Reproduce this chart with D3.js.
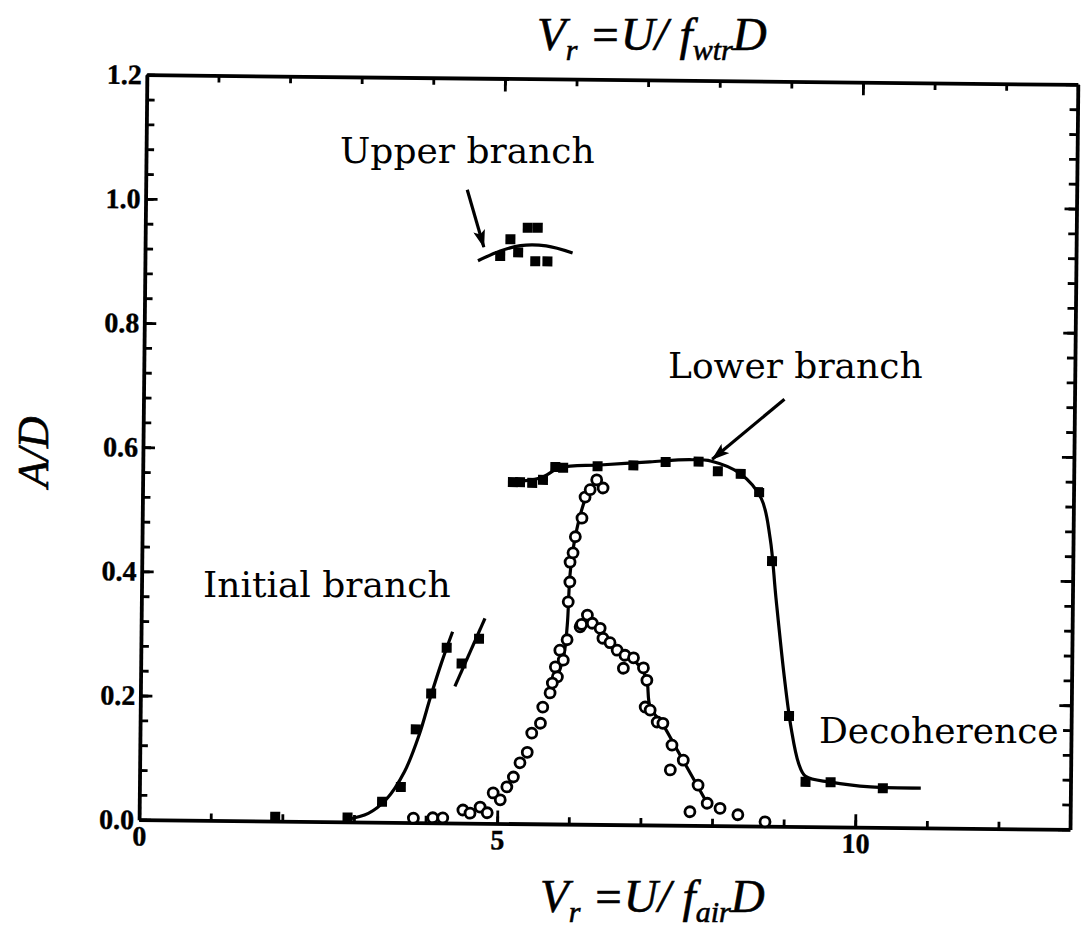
<!DOCTYPE html>
<html>
<head>
<meta charset="utf-8">
<script src="https://cdn.jsdelivr.net/npm/d3@7"></script>
<style>
  body { margin: 0; background: #fff; }
</style>
</head>
<body>
<div id="chart"></div>
<script>
// values (Vr, A/D)

// initial branch, filled squares + fitted curve
const initialX = [1.90, 2.91, 3.39, 3.65, 3.85, 4.06, 4.27];
const initialY = [0.007, 0.007, 0.033, 0.057, 0.150, 0.208, 0.282];
const initialFitX = [2.9, 3.2, 3.45, 3.7, 3.9, 4.05, 4.2, 4.35];
const initialFitY = [0.004, 0.014, 0.037, 0.082, 0.142, 0.202, 0.258, 0.308];
const initial2X = [4.48, 4.72];
const initial2Y = [0.257, 0.297];
const initial2FitX = [4.39, 4.8];
const initial2FitY = [0.220, 0.330];

// upper branch
const upperX = [4.96, 5.10, 5.21, 5.34, 5.48, 5.45, 5.62];
const upperY = [0.914, 0.941, 0.920, 0.960, 0.960, 0.906, 0.906];
const upperFitX = [4.65, 4.96, 5.24, 5.6, 5.97];
const upperFitY = [0.906, 0.922, 0.931, 0.931, 0.920];

// lower branch + decoherence
const lowerX = [5.17, 5.27, 5.44, 5.59, 5.76, 5.87, 6.35, 6.85, 7.30, 7.76, 8.03, 8.35, 8.61, 8.80, 9.06, 9.30, 9.65, 10.38];
const lowerY = [0.550, 0.550, 0.549, 0.554, 0.575, 0.574, 0.577, 0.579, 0.585, 0.586, 0.571, 0.567, 0.538, 0.427, 0.178, 0.072, 0.072, 0.063];
const lowerFitX = [5.13, 5.55, 5.83, 6.38, 7.08, 7.64, 7.94, 8.35, 8.64, 8.77, 8.86, 8.99, 9.09, 9.20, 9.30, 9.65, 10.21, 10.91];
const lowerFitY = [0.550, 0.557, 0.574, 0.579, 0.585, 0.589, 0.587, 0.567, 0.528, 0.464, 0.368, 0.239, 0.159, 0.102, 0.081, 0.072, 0.065, 0.064];

// open symbols, rising set
const riseX = [3.83, 4.10, 4.24, 4.52, 4.62, 4.76, 4.86, 4.94, 5.04, 5.13, 5.22, 5.31, 5.41, 5.47, 5.59, 5.62, 5.72, 5.82, 5.90, 5.95, 5.85, 5.79, 5.75, 5.96, 5.98, 5.98, 6.02, 6.05, 6.14, 6.18, 6.25, 6.43, 6.34];
const riseY = [0.007, 0.008, 0.008, 0.021, 0.016, 0.026, 0.017, 0.049, 0.038, 0.059, 0.075, 0.098, 0.115, 0.146, 0.162, 0.188, 0.211, 0.237, 0.264, 0.297, 0.280, 0.253, 0.227, 0.358, 0.390, 0.422, 0.437, 0.463, 0.493, 0.527, 0.539, 0.542, 0.555];
const riseFitX = [5.75, 5.9, 5.95, 5.98, 6.03, 6.12, 6.22, 6.35];
const riseFitY = [0.215, 0.268, 0.32, 0.40, 0.45, 0.50, 0.535, 0.556];

// open symbols, falling set
const fallX = [6.23, 6.13, 6.30, 6.41, 6.45, 6.55, 6.65, 6.76, 6.88, 6.74, 7.02, 7.07, 7.05, 7.12, 7.22, 7.30, 7.43, 7.59, 7.41, 7.80, 7.93, 8.11, 7.69, 8.36, 8.74, 6.15];
const fallY = [0.337, 0.318, 0.324, 0.316, 0.300, 0.293, 0.281, 0.273, 0.269, 0.252, 0.253, 0.233, 0.190, 0.185, 0.166, 0.164, 0.129, 0.105, 0.089, 0.065, 0.036, 0.028, 0.022, 0.018, 0.007, 0.322];
const fallFitX = [6.88, 7.0, 7.07, 7.12, 7.3, 7.5, 7.7, 7.93];
const fallFitY = [0.266, 0.25, 0.233, 0.19, 0.162, 0.122, 0.082, 0.036];

// ticks
const yMajor = [0, 0.2, 0.4, 0.6, 0.8, 1.0, 1.2];
const yMinor = d3.range(0, 31).map(function(i){ return i * 0.04; });
const xMajor = [0, 5, 10];
const xMinor = d3.range(0, 14);

const W = 1083, H = 937;
const svg = d3.select('#chart').append('svg')
    .attr('width', W)
    .attr('height', H);
svg.append('rect').attr('width', W).attr('height', H).attr('fill', '#fff');

const x = d3.scaleLinear().domain([0, 13]).range([143, 1074]);
const y = d3.scaleLinear().domain([0, 1.2]).range([824.5, 79.5]);

// the scanned page is a little tilted
const g = svg.append('g').attr('transform', 'rotate(0.6,605,448)');

svg.append('defs').append('marker')
    .attr('id', 'arrow')
    .attr('markerUnits', 'userSpaceOnUse')
    .attr('viewBox', '0 0 18 12')
    .attr('markerWidth', 18)
    .attr('markerHeight', 12)
    .attr('refX', 17)
    .attr('refY', 6)
    .attr('orient', 'auto')
    .append('path')
    .attr('d', 'M0,0L18,6L0,12L4,6Z')
    .attr('fill', '#000');

// axes
function styleAxis(sel, width) {
    sel.selectAll('path.domain').attr('stroke', '#000').attr('stroke-width', width);
    sel.selectAll('.tick line').attr('stroke', '#000').attr('stroke-width', 2.8);
    sel.selectAll('.tick text')
        .attr('fill', '#000')
        .attr('stroke', '#000')
        .attr('stroke-width', 0.4)
        .style('font-family', '"Liberation Serif", serif')
        .style('font-weight', 'bold')
        .style('font-size', '28px');
}

function addAxis(axis, tx, ty, width) {
    const a = g.append('g').attr('transform', 'translate(' + tx + ',' + ty + ')').call(axis);
    if (width == 0) a.select('path.domain').remove();
    styleAxis(a, width);
    return a;
}

addAxis(d3.axisLeft(y).tickValues(yMajor).tickSize(-12).tickSizeOuter(0).tickPadding(5).tickFormat(d3.format('.1f')), x(0), 0, 3.8);
addAxis(d3.axisLeft(y).tickValues(yMinor).tickSize(-8).tickSizeOuter(0).tickFormat(''), x(0), 0, 0);
addAxis(d3.axisRight(y).tickValues(yMajor).tickSize(-12).tickSizeOuter(0).tickFormat(''), x(13), 0, 3.8);
addAxis(d3.axisRight(y).tickValues(yMinor).tickSize(-8).tickSizeOuter(0).tickFormat(''), x(13), 0, 0);
addAxis(d3.axisBottom(x).tickValues(xMajor).tickSize(-13).tickSizeOuter(0).tickPadding(6).tickFormat(d3.format('d')), 0, y(0), 3.8);
addAxis(d3.axisBottom(x).tickValues(xMinor).tickSize(-7).tickSizeOuter(0).tickFormat(''), 0, y(0), 0);
addAxis(d3.axisTop(x).tickValues(xMajor).tickSize(-13).tickSizeOuter(0).tickFormat(''), 0, y(1.2), 3.8);
addAxis(d3.axisTop(x).tickValues(xMinor).tickSize(-7).tickSizeOuter(0).tickFormat(''), 0, y(1.2), 0);

// fitted curves
const line = d3.line()
    .x(function(d){ return x(d[0]); })
    .y(function(d){ return y(d[1]); })
    .curve(d3.curveCatmullRom);

function drawCurve(xs, ys) {
    g.append('path')
        .datum(d3.zip(xs, ys))
        .attr('d', line)
        .attr('fill', 'none')
        .attr('stroke', '#000')
        .attr('stroke-width', 3.2);
}
drawCurve(initialFitX, initialFitY);
drawCurve(initial2FitX, initial2FitY);
drawCurve(upperFitX, upperFitY);
drawCurve(lowerFitX, lowerFitY);
drawCurve(riseFitX, riseFitY);
drawCurve(fallFitX, fallFitY);

// symbols
function drawOpen(xs, ys) {
    g.append('g').selectAll('circle')
        .data(d3.zip(xs, ys))
        .enter()
        .append('circle')
            .attr('cx', function(d){ return x(d[0]); })
            .attr('cy', function(d){ return y(d[1]); })
            .attr('r', 5)
            .attr('fill', '#fff')
            .attr('stroke', '#000')
            .attr('stroke-width', 2.8);
}
function drawFilled(xs, ys) {
    g.append('g').selectAll('rect')
        .data(d3.zip(xs, ys))
        .enter()
        .append('rect')
            .attr('x', function(d){ return x(d[0]) - 5; })
            .attr('y', function(d){ return y(d[1]) - 5; })
            .attr('width', 10)
            .attr('height', 10)
            .attr('fill', '#000');
}
drawOpen(riseX, riseY);
drawOpen(fallX, fallY);
drawFilled(initialX, initialY);
drawFilled(initial2X, initial2Y);
drawFilled(upperX, upperY);
drawFilled(lowerX, lowerY);

// arrows
const arrows = [
    {from: [4.49, 1.02], to: [4.73, 0.928]},
    {from: [8.95, 0.688], to: [7.95, 0.590]}
];
g.selectAll('.arrow')
    .data(arrows)
    .enter()
    .append('line')
        .attr('class', 'arrow')
        .attr('x1', function(d){ return x(d.from[0]); })
        .attr('y1', function(d){ return y(d.from[1]); })
        .attr('x2', function(d){ return x(d.to[0]); })
        .attr('y2', function(d){ return y(d.to[1]); })
        .attr('stroke', '#000')
        .attr('stroke-width', 3.2)
        .attr('marker-end', 'url(#arrow)');

// annotation texts
const notes = [
    {text: 'Upper branch', x: 340, y: 163},
    {text: 'Lower branch', x: 668, y: 378},
    {text: 'Initial branch', x: 203, y: 597},
    {text: 'Decoherence', x: 819, y: 743}
];
svg.selectAll('.note')
    .data(notes)
    .enter()
    .append('text')
        .attr('class', 'note')
        .attr('x', function(d){ return d.x; })
        .attr('y', function(d){ return d.y; })
        .text(function(d){ return d.text; })
        .attr('fill', '#000')
        .style('font-family', '"DejaVu Serif", serif')
        .style('font-size', '36px');

// axis titles  V_r = U/ f_xxx D
function axisTitle(px, py, sub) {
    const t = svg.append('text')
        .attr('x', px)
        .attr('y', py)
        .attr('fill', '#000')
        .attr('stroke', '#000')
        .attr('stroke-width', 0.6)
        .style('font-family', '"Liberation Serif", serif')
        .style('font-style', 'italic')
        .style('font-size', '47px');
    t.append('tspan').text('V');
    t.append('tspan').attr('dy', 10).style('font-size', '30px').text('r');
    t.append('tspan').attr('dy', -10).text(' =U/ f');
    t.append('tspan').attr('dy', 10).style('font-size', '30px').text(sub);
    t.append('tspan').attr('dy', -10).text('D');
}
axisTitle(537, 50, 'wtr');
axisTitle(540, 912, 'air');

svg.append('text')
    .attr('transform', 'translate(48,452) rotate(-90)')
    .attr('text-anchor', 'middle')
    .attr('fill', '#000')
    .attr('stroke', '#000')
    .attr('stroke-width', 0.6)
    .style('font-family', '"Liberation Serif", serif')
    .style('font-style', 'italic')
    .style('font-size', '44px')
    .text('A/D');
</script>
</body>
</html>
